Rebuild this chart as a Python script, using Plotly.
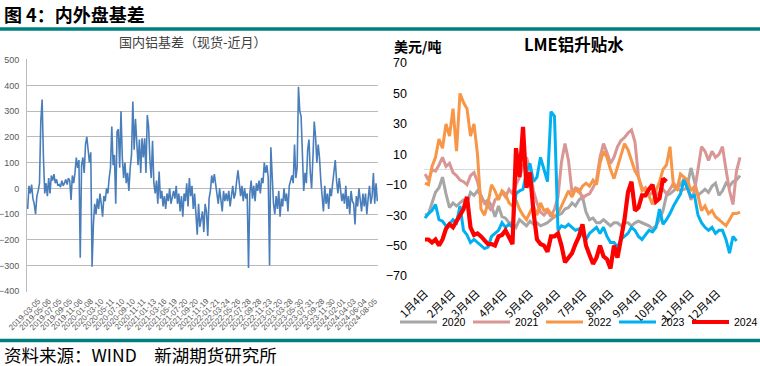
import plotly.graph_objects as go

# ---------------- Left panel: 国内铝基差（现货-近月） ----------------
basis_dates = ["2019-01-02", "2019-03-05", "2019-05-06", "2019-07-05", "2019-09-05", "2019-11-06",
               "2020-01-08", "2020-03-10", "2020-05-11", "2020-07-10", "2020-09-10", "2020-11-11",
               "2021-01-13", "2021-03-16", "2021-05-19", "2021-07-20", "2021-09-20", "2021-11-19",
               "2022-01-21", "2022-03-24", "2022-05-26", "2022-07-28", "2022-09-28", "2022-11-23",
               "2023-01-20", "2023-03-28", "2023-05-30", "2023-07-31", "2023-09-28", "2023-11-30",
               "2024-02-01", "2024-04-03", "2024-06-04", "2024-08-05"]
pts_per_label = 8

basis = [
    -80, 10, -20, 15, -40, -60, -100, -30,
    -10, 20, 260, 345, 120, -20, 20, -30,
    40, -20, 50, 30, 55, 20, 35, 10,
    15, 5, 30, 10, 20, 35, 15, 40,
    30, -45, 50, 20, 60, 120, 80, 110,
    -270, 90, 120, 60, 170, 200, 150, 100,
    140, -305, -140, -60, -100, -40, -80, -20,
    -60, -110, -30, -50, 0, -20, 40, 80,
    240, 90, 130, -60, 220, 230, 80, 300,
    120, 40, 100, 20, 60, -10, 80, 130,
    338, 150, 270, 200, 90, 190, 60, 195,
    120, 195, 60, 285, 240, 110, 40, 185,
    20, -20, 30, -60, 65, -40, -10, -70,
    -30, -80, -20, -50, 0, -60, -30, -10,
    -40, 10, -60, -20, -90, -30, -110, -20,
    -50, 20, -70, 40, -30, 10, -80, -20,
    -100, -180, -60, -150, -120, -90, -170, -60,
    -90, -185, -40, -10, 50, 20, 55, 10,
    -20, -60, 0, -40, -90, -10, -50, -20,
    -50, -10, -70, -30, 10, -40, -20, 30,
    70, 20, -30, 10, -50, 0, -40, -20,
    -310, -20, 30, -40, 10, -50, 20, -10,
    30, -20, 40, 20, 100, 60, 90, 40,
    -300, 160, 20, -60, -100, -30, -80, -10,
    -110, -40, -70, 0, -50, -20, -90, 10,
    30, 50, 20, 170, 40, 80, 395, 300,
    280, 120, -10, 60, 20, 150, 190, 60,
    0, 120, 260, 200, 100, 170, 120, 30,
    -40, -90, 10, -60, -20, -80, 0, -30,
    20, 60, 110, 30, -20, 40, -10, -50,
    -20, -60, 10, -80, -30, -100, -10, -50,
    -60, -140, -30, -70, 0, -50, -90, -20,
    -70, -20, -100, -40, 10, -60, -30, 60,
    -60, 20, -50,
]

# ---------------- Right panel: LME铝升贴水 (美元/吨) ----------------
month_labels = ["1月4日", "2月4日", "3月4日", "4月4日", "5月4日", "6月4日",
                "7月4日", "8月4日", "9月4日", "10月4日", "11月4日", "12月4日"]
month_days = [4, 35, 63, 94, 124, 155, 185, 216, 247, 277, 308, 338]   # day of year
days = list(range(4, 368, 4))   # sampling day-of-year for the series below

lme_2020 = [-30, -29, -22, -15, -12, -5, -16, -25, -22, -24, -22, -20, -22, -15, -17, -14, -17, -22, -20, -24,
            -31, -24, -31, -32, -35, -35, -38, -33, -35,
            -37, -34, -36, -35, -37, -36, -35, -33, -31, -30, -29, -26, -25, -22, -24, -20, -18, -28, -33, -32,
            -35, -35, -33, -35, -37, -35, -35, -37, -35, -35, -37, -35, -34,
            -35, -36, -37, -39, -37, -33, -27, -17, -16, -14, -12, -10, -6, -10, 1, -8, -17, -15, -13, -15,
            -11, -9, -17, -14, -9, -11, -8, -7, -4]
lme_2021 = [-3, -7, 0, -1, 3, 8, 2, 4, -2, -4, -7, -8, -10, -4, -2, -8, -18, -22, -24, -27, -20, -18, -15, -18,
            -13, -16, -10, -5, 2,
            8, 0, -14, -22, -28, -30, -27, -31, -26, -18, 5, 17, 6, -15, -12, -13, -19, -17, -16, -12, -7, 8,
            17, 11, 4, 8, 15, 19, 21, 24, 26, 18, -5,
            -12, -14, -17, -15, -17, -15, -13, -16, -13, -9, -12, -14, -13, -12, -20, -14, 0, 15, 12, 6, 12,
            8, 10, 15, 0, -14, -23, -1, 8]
lme_2022 = [-9, -10, 2, 8, 20, 14, 30, 22, 40, 12, 50, 44, 40, 22, 30, 10, -26, -30, -22, -10, -14, -20, -14,
            -16, -22, -24, -20, -26, -30,
            -33, -28, -24, -30, -22, -27, -26, -29, -31, -29, -24, -20, -14, -18, -13, -15, -11, -9, -11, -7,
            -10, 4, 12, 8, 0, -6, 2, 10, 17, 13, 6, -1, -5,
            -14, -12, -18, -23, -14, -8, 0, 3, 15, -11, -13, -3, -5, -7, -14, -11, -17, -27, -24, -29, -27,
            -31, -33, -35, -37, -33, -29, -29, -28]
lme_2023 = [-32, -29, -27, -23, -33, -34, -37, -36, -33, -35, -24, -40, -43, -48, -46, -48, -50, -52, -51, -44,
            -42, -40, -35, -38, -36, -38, -16, -14, -13,
            -2, 4, -8, -5, 8, 0, -8, 38, 35, -40, -37, -38, -36, -38, -40, -39, -43, -46, -42, -40, -38, -42,
            -38, -44, -48, -48, -51, -46, -44, -42, -38, -40, -44,
            -46, -43, -40, -41, -38, -26, -36, -33, -29, -24, -20, -16, -7, -12, -18, -17, -30, -35, -38, -40,
            -38, -42, -40, -40, -46, -55, -44, -47]
lme_2024 = [-46, -46, -48, -46, -50, -46, -39, -36, -38, -34, -29, -26, -18, -38, -43, -42, -44, -47, -49, -49,
            -50, -44, -43, -40, -44, -49, 14, -5, 28,
            -12, -2, -28, -46, -49, -50, -54, -44, -44, -42, -50, -61, -58, -55, -49, -44, -36, -50, -56, -62,
            -58, -50, -57, -59, -65, -50, -58, -46, -33, -15, -8, -27, -25,
            -17, -17, -13, -10, -21, -19, -6, -8]

series = [("2020", lme_2020, "#A6A6A6", 3),
          ("2021", lme_2021, "#D99694", 3),
          ("2022", lme_2022, "#F79646", 3),
          ("2023", lme_2023, "#00B0F0", 3),
          ("2024", lme_2024, "#FF0000", 4.2)]

W, H = 760, 366
CJK = "Noto Sans CJK SC"
NUM = "Liberation Sans"

fig = go.Figure()
fig.add_trace(go.Scatter(x=list(range(len(basis))), y=basis, mode="lines",
                         line=dict(color="#4A7EBB", width=1.6), xaxis="x", yaxis="y",
                         showlegend=False, hoverinfo="skip"))
for name, vals, color, w in series:
    fig.add_trace(go.Scatter(x=days[:len(vals)], y=vals, mode="lines", name=name,
                             line=dict(color=color, width=w), xaxis="x2", yaxis="y2"))

fig.update_layout(
    width=W, height=H, margin=dict(l=0, r=0, t=0, b=0, autoexpand=False),
    paper_bgcolor="white", plot_bgcolor="white",
    font=dict(family=CJK, color="black"),
    xaxis=dict(domain=[27 / W, 378 / W], range=[-0.5, len(basis) - 0.5],
               tickvals=[i * pts_per_label for i in range(len(basis_dates))], ticktext=basis_dates,
               tickangle=-45, tickfont=dict(family=NUM, size=8, color="#595959"),
               showgrid=False, zeroline=False, showline=False, ticks="", ticklabelstandoff=2),
    yaxis=dict(domain=[74 / H, 307 / H], range=[-403, 503], dtick=100,
               tickfont=dict(family=NUM, size=9, color="#595959"),
               showgrid=True, gridcolor="#BABABA", gridwidth=1.3,
               zeroline=False, showline=True, linecolor="#BABABA", linewidth=1,
               ticks="", ticklabelstandoff=5),
    xaxis2=dict(domain=[424 / W, 742 / W], range=[2.86, 366.3], anchor="y2",
                tickvals=month_days, ticktext=month_labels, tickangle=-45,
                tickfont=dict(family=CJK, size=11, color="black"),
                showgrid=False, zeroline=False, showline=False, ticks="", ticklabelstandoff=8),
    yaxis2=dict(domain=[90 / H, 303 / H], range=[-70, 70], anchor="x2",
                tickvals=[-70, -50, -30, -10, 10, 30, 50, 70],
                tickfont=dict(family=NUM, size=12.5, color="black"),
                showgrid=False, zeroline=True, zerolinecolor="#D9D9D9", zerolinewidth=1.2,
                showline=False, ticks="", ticklabelstandoff=16),
    legend=dict(orientation="h", x=395 / W, y=(H - 322) / H, xanchor="left", yanchor="middle",
                font=dict(family=NUM, size=10.5, color="black"), entrywidth=21, itemwidth=37,
                bgcolor="rgba(0,0,0,0)", tracegroupgap=0),
    shapes=[
        dict(type="line", xref="paper", yref="paper", x0=0, x1=1, y0=(H - 29) / H, y1=(H - 29) / H,
             line=dict(color="#007F7F", width=3.5)),
        dict(type="line", xref="paper", yref="paper", x0=0, x1=1, y0=(H - 340.5) / H, y1=(H - 340.5) / H,
             line=dict(color="#007F7F", width=3.5)),
    ],
    annotations=[
        dict(text="<b>图 4：内外盘基差</b>", x=2 / W, y=(H - 14) / H, xref="paper", yref="paper",
             xanchor="left", yanchor="middle", showarrow=False, font=dict(family=CJK, size=18)),
        dict(text="国内铝基差（现货-近月）", x=193 / W, y=(H - 41) / H, xref="paper", yref="paper",
             xanchor="center", yanchor="middle", showarrow=False,
             font=dict(family=CJK, size=13, color="#404040")),
        dict(text="<b>LME铝升贴水</b>", x=574 / W, y=(H - 44) / H, xref="paper", yref="paper",
             xanchor="center", yanchor="middle", showarrow=False, font=dict(family=CJK, size=16.5)),
        dict(text="<b>美元/吨</b>", x=392 / W, y=(H - 46.5) / H, xref="paper", yref="paper",
             xanchor="left", yanchor="middle", showarrow=False, font=dict(family=CJK, size=14)),
        dict(text="资料来源：WIND　新湖期货研究所", x=2 / W, y=(H - 354) / H, xref="paper", yref="paper",
             xanchor="left", yanchor="middle", showarrow=False, font=dict(family=CJK, size=17.5)),
    ],
)

fig.write_html("out.html", config={"displayModeBar": False},
               post_script="document.body.style.margin='0px';")
